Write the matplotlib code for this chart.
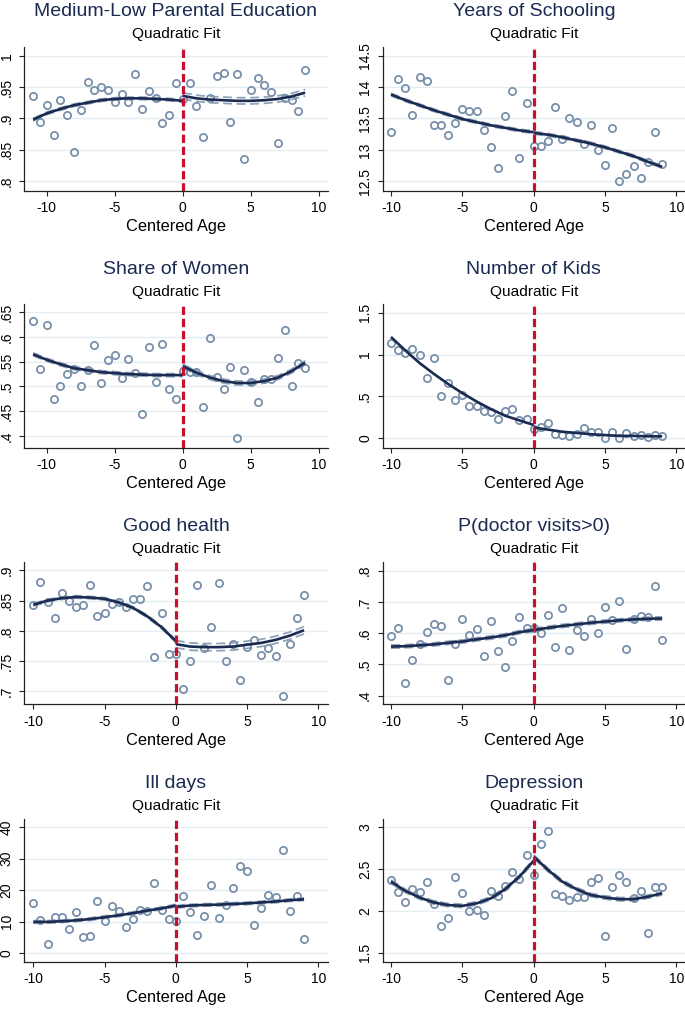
import numpy as np
import matplotlib
matplotlib.use("Agg")
import matplotlib.pyplot as plt

plt.rcParams['font.family'] = ['Liberation Sans', 'DejaVu Sans']

# ---------------- data ----------------
ages_11 = np.arange(-11, 9.01, 0.5)
ages_10 = np.arange(-10, 9.01, 0.5)
fit_x_l11 = [-11, -10, -9, -8, -7, -6, -5, -4, -3, -2, -1, 0]
fit_x_l10 = [-10, -9, -8, -7, -6, -5, -4, -3, -2, -1, 0]
fit_x_r = [0, 1, 2, 3, 4, 5, 6, 7, 8, 9]

titles = ["Medium-Low Parental Education", "Years of Schooling",
          "Share of Women", "Number of Kids",
          "Good health", "P(doctor visits>0)",
          "Ill days", "Depression"]

medlow = [.935, .895, .922, .874, .930, .905, .846, .913, .958, .946, .950,
          .945, .926, .939, .926, .971, .915, .944, .933, .893, .905, .957,
          .931, .957, .919, .871, .932, .968, .973, .895, .971, .835, .945,
          .965, .953, .942, .861, .932, .929, .911, .977]
medlow_fit_l = [.898, .908, .915, .921, .925, .929, .931, .932, .932, .931, .930, .928]
medlow_fit_r = [.936, .932, .930, .929, .928, .928, .929, .931, .935, .941]

school = [13.28, 14.12, 13.99, 13.56, 14.16, 14.09, 13.40, 13.40, 13.23, 13.42,
          13.65, 13.61, 13.61, 13.31, 13.05, 12.71, 13.53, 13.93, 12.87, 13.74,
          13.06, 13.06, 13.14, 13.68, 13.18, 13.51, 13.44, 13.10, 13.39, 13.00,
          12.76, 13.34, 12.50, 12.61, 12.74, 12.55, 12.81, 13.28, 12.77]
school_fit_l = [13.88, 13.79, 13.71, 13.63, 13.56, 13.49, 13.44, 13.39, 13.35, 13.31, 13.28]
school_fit_r = [13.27, 13.24, 13.20, 13.15, 13.10, 13.04, 12.97, 12.90, 12.81, 12.73]

women = [.632, .535, .625, .475, .500, .525, .535, .500, .533, .584, .508,
         .554, .564, .517, .555, .527, .444, .580, .510, .585, .495, .475,
         .531, .529, .530, .459, .597, .520, .495, .539, .395, .533, .509,
         .469, .515, .516, .557, .615, .500, .547, .537]
women_fit_l = [.565, .554, .545, .537, .533, .529, .527, .525, .524, .523, .523, .523]
women_fit_r = [.541, .528, .518, .511, .507, .507, .511, .518, .531, .548]

kids = [1.14, 1.05, 1.02, 1.07, 1.00, 0.72, 0.96, 0.505, 0.66, 0.46, 0.52,
        0.39, 0.39, 0.33, 0.31, 0.235, 0.33, 0.35, 0.215, 0.235, 0.11, 0.14,
        0.18, 0.055, 0.04, 0.025, 0.05, 0.13, 0.08, 0.08, 0.0, 0.08, 0.0,
        0.07, 0.025, 0.045, 0.015, 0.035, 0.025]
kids_fit_l = [1.21, 1.05, 0.90, 0.77, 0.65, 0.54, 0.44, 0.35, 0.27, 0.215, 0.16]
kids_fit_r = [0.13, 0.105, 0.08, 0.065, 0.05, 0.04, 0.03, 0.03, 0.025, 0.025]

health = [.842, .881, .847, .821, .863, .849, .839, .842, .876, .825, .829,
          .845, .847, .839, .852, .852, .874, .756, .829, .762, .762, .703,
          .750, .875, .771, .807, .879, .750, .779, .719, .774, .784, .760,
          .771, .758, .692, .778, .821, .859]
health_fit_l = [.843, .850, .854, .856, .855, .853, .847, .838, .824, .806, .783]
health_fit_r = [.778, .774, .773, .773, .774, .777, .780, .785, .792, .801]

doctor = [.590, .617, .440, .514, .566, .603, .629, .624, .450, .566, .644,
          .593, .613, .526, .639, .544, .490, .575, .653, .615, .618, .600,
          .659, .556, .682, .545, .610, .592, .645, .600, .684, .641, .702,
          .548, .646, .654, .651, .751, .579]
doctor_fit_l = [.557, .558, .561, .564, .569, .573, .580, .586, .593, .603, .610]
doctor_fit_r = [.610, .617, .623, .628, .633, .637, .641, .644, .646, .647]

illdays = [16.0, 10.6, 2.9, 11.4, 11.6, 7.5, 13.0, 5.1, 5.4, 16.7, 10.3,
           15.0, 13.5, 8.2, 10.7, 13.7, 13.3, 22.2, 13.7, 10.7, 10.1, 18.1,
           13.2, 5.6, 11.9, 21.5, 11.0, 15.3, 20.6, 27.8, 26.2, 8.8, 14.3,
           18.5, 17.9, 32.8, 13.5, 18.2, 4.6]
illdays_fit_l = [9.9, 9.9, 10.1, 10.4, 10.8, 11.4, 12.0, 12.7, 13.5, 14.2, 15.1]
illdays_fit_r = [14.7, 15.1, 15.3, 15.4, 15.6, 15.8, 16.1, 16.4, 16.8, 17.1]

depress = [2.37, 2.23, 2.11, 2.26, 2.23, 2.34, 2.08, 1.82, 1.92, 2.41, 2.21,
           2.00, 2.01, 1.95, 2.24, 2.18, 2.30, 2.46, 2.38, 2.67, 2.43, 2.80,
           2.96, 2.20, 2.18, 2.13, 2.17, 2.17, 2.34, 2.39, 1.70, 2.29, 2.43,
           2.35, 2.15, 2.24, 1.74, 2.28, 2.28]
depress_fit_l = [2.35, 2.24, 2.16, 2.10, 2.07, 2.06, 2.09, 2.15, 2.26, 2.41, 2.60]
depress_fit_r = [2.65, 2.49, 2.35, 2.26, 2.19, 2.16, 2.14, 2.14, 2.17, 2.21]

# confidence band half-widths (left side, right side)
ci_half = [(0.002, 0.005), (0.02, 0.02), (0.003, 0.004), (0.0, 0.0),
           (0.002, 0.006), (0.005, 0.005), (0.4, 0.4), (0.02, 0.02)]

yticks = [[.8, .85, .9, .95, 1], [12.5, 13, 13.5, 14, 14.5],
          [.4, .45, .5, .55, .6, .65], [0, .5, 1, 1.5],
          [.7, .75, .8, .85, .9], [.4, .5, .6, .7, .8],
          [0, 10, 20, 30, 40], [1.5, 2, 2.5, 3]]
ytick_labels = [[".8", ".85", ".9", ".95", "1"], ["12.5", "13", "13.5", "14", "14.5"],
                [".4", ".45", ".5", ".55", ".6", ".65"], ["0", ".5", "1", "1.5"],
                [".7", ".75", ".8", ".85", ".9"], [".4", ".5", ".6", ".7", ".8"],
                ["0", "10", "20", "30", "40"], ["1.5", "2", "2.5", "3"]]
xticks = [-10, -5, 0, 5, 10]
xtick_labels = ["-10", "-5", "0", "5", "10"]

panels = [
    (ages_11, medlow, fit_x_l11, medlow_fit_l, medlow_fit_r),
    (ages_10, school, fit_x_l10, school_fit_l, school_fit_r),
    (ages_11, women, fit_x_l11, women_fit_l, women_fit_r),
    (ages_10, kids, fit_x_l10, kids_fit_l, kids_fit_r),
    (ages_10, health, fit_x_l10, health_fit_l, health_fit_r),
    (ages_10, doctor, fit_x_l10, doctor_fit_l, doctor_fit_r),
    (ages_10, illdays, fit_x_l10, illdays_fit_l, illdays_fit_r),
    (ages_10, depress, fit_x_l10, depress_fit_l, depress_fit_r),
]

# ---------------- layout (pixels) ----------------
W, H = 685, 1010
col_x = [(24.3, 327.7), (382.7, 685.0)]
row_y = [(46.7, 190.7), (304.3, 447.7), (561.7, 704.3), (819.3, 961.7)]
title_y = [11.7, 269.0, 526.4, 783.0]
sub_y = [34.3, 291.7, 549.0, 805.7]
xlims = [(-11.65, 10.66), (-10.58, 10.60), (-11.65, 10.66), (-10.58, 10.60),
         (-10.63, 10.66), (-10.58, 10.60), (-10.63, 10.66), (-10.58, 10.60)]
ylims = [(0.7846, 1.0144), (12.35, 14.64), (0.3764, 0.666), (-0.111, 1.60),
         (0.6785, 0.9143), (0.372, 0.8288), (-2.76, 42.55), (1.392, 3.096)]

navy = '#1a2a50'
marker_c = '#7990aa'
ci_c = '#8fa3ba'
red = '#c8102e'
grid_c = '#e4eef0'

fig = plt.figure(figsize=(W / 100, H / 100), dpi=100)
fig.patch.set_facecolor('white')

for i, (xs, ys, fxl, fyl, fyr) in enumerate(panels):
    r, c = divmod(i, 2)
    x0, x1 = col_x[c]
    yt, yb = row_y[r]
    ax = fig.add_axes([x0 / W, 1 - yb / H, (x1 - x0) / W, (yb - yt) / H])
    ax.set_xlim(*xlims[i])
    ax.set_ylim(*ylims[i])
    for t in yticks[i]:
        ax.axhline(t, color=grid_c, lw=1.0, zorder=0)
    hl, hr = ci_half[i]
    fyl = np.asarray(fyl)
    fyr = np.asarray(fyr)
    if hl > 0:
        for s in (-1, 1):
            ax.plot(fxl, fyl + s * hl, color=ci_c, lw=1.3, ls=(0, (5, 2.5)), zorder=2)
    if hr > 0:
        for s in (-1, 1):
            ax.plot(fit_x_r, fyr + s * hr, color=ci_c, lw=1.3, ls=(0, (5, 2.5)), zorder=2)
    ax.plot(xs, ys, ls='none', marker='o', ms=5.2, mfc='none', mec=marker_c,
            mew=1.3, zorder=3)
    ax.plot(fxl, fyl, color=navy, lw=1.9, zorder=4, solid_capstyle='butt')
    ax.plot(fit_x_r, fyr, color=navy, lw=1.9, zorder=4, solid_capstyle='butt')
    ax.axvline(0, color=red, lw=2.3, ls=(0, (2.6, 1.2)), zorder=5)

    for sp in ('top', 'right'):
        ax.spines[sp].set_visible(False)
    for sp in ('left', 'bottom'):
        ax.spines[sp].set_color('#222222')
        ax.spines[sp].set_linewidth(0.9)
    ax.set_xticks(xticks)
    ax.set_xticklabels(xtick_labels, fontsize=10)
    ax.set_yticks(yticks[i])
    ax.set_yticklabels(ytick_labels[i], fontsize=10, rotation=90, va='center')
    ax.tick_params(direction='out', length=3.6, width=0.8, color='#222222', pad=4)
    ax.set_xlabel("Centered Age", fontsize=11.8, labelpad=3)

    cx = (x0 + x1) / 2 / W
    fig.text(cx, 1 - title_y[r] / H, titles[i], ha='center', va='center',
             fontsize=14, color=navy)
    fig.text(cx, 1 - sub_y[r] / H, "Quadratic Fit", ha='center', va='center',
             fontsize=11.1, color='black')

fig.savefig("out.png", dpi=100)
